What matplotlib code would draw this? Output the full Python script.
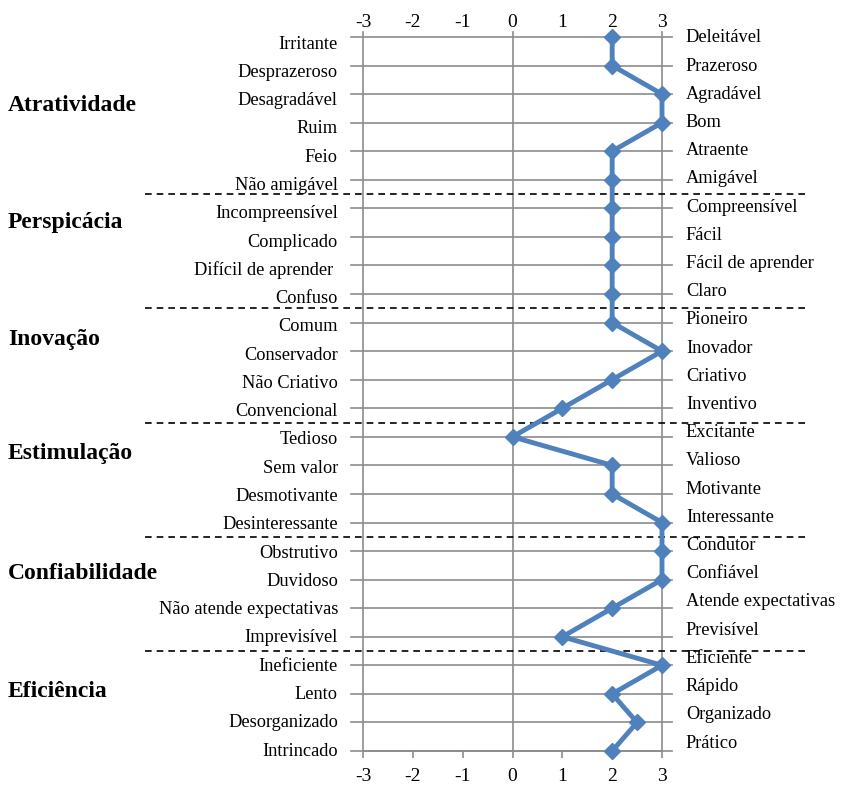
import numpy as np
import matplotlib.pyplot as plt
import matplotlib.transforms as mtransforms

plt.rcParams['axes.unicode_minus'] = False

# semantic differential pairs, top to bottom
neg_labels = ['Irritante', 'Desprazeroso', 'Desagradável', 'Ruim', 'Feio', 'Não amigável',
              'Incompreensível', 'Complicado', 'Difícil de aprender ', 'Confuso',
              'Comum', 'Conservador', 'Não Criativo', 'Convencional',
              'Tedioso', 'Sem valor', 'Desmotivante', 'Desinteressante',
              'Obstrutivo', 'Duvidoso', 'Não atende expectativas', 'Imprevisível',
              'Ineficiente', 'Lento', 'Desorganizado', 'Intrincado']
pos_labels = ['Deleitável', 'Prazeroso', 'Agradável', 'Bom', 'Atraente', 'Amigável',
              'Compreensível', 'Fácil', 'Fácil de aprender', 'Claro',
              'Pioneiro', 'Inovador', 'Criativo', 'Inventivo',
              'Excitante', 'Valioso', 'Motivante', 'Interessante',
              'Condutor', 'Confiável', 'Atende expectativas', 'Previsível',
              'Eficiente', 'Rápido', 'Organizado', 'Prático']
scores = [2, 2, 3, 3, 2, 2,
          2, 2, 2, 2,
          2, 3, 2, 1,
          0, 2, 2, 3,
          3, 3, 2, 1,
          3, 2, 2.5, 2]

groups = ['Atratividade', 'Perspicácia', 'Inovação', 'Estimulação', 'Confiabilidade', 'Eficiência']
group_y = [2.4, 6.5, 10.6, 14.6, 18.8, 22.9]
group_breaks = [5.5, 9.5, 13.5, 17.5, 21.5]

serif = ['Liberation Serif', 'DejaVu Serif']
grey = '#8c8c8c'
blue = '#4f81bd'

fig = plt.figure(figsize=(8.42, 7.87), dpi=100)
ax = fig.add_axes([363 / 842, 1 - 751 / 787, 299 / 842, 714 / 787])

rows = np.arange(len(scores))
n = len(scores)
ax.plot(scores, rows, color=blue, lw=3.5, marker='D', ms=8, zorder=5, clip_on=False)

ax.set_xlim(-3, 3)
ax.set_ylim(n - 1, 0)

# horizontal row lines and the three vertical reference lines
for r in rows:
    ax.plot([-3.25, 3.2], [r, r], color=grey, lw=1.2, zorder=1, clip_on=False)
for x in [-3, 0, 3]:
    ax.plot([x, x], [-0.18, n - 1], color=grey, lw=1.2, zorder=1, clip_on=False)
for s in ax.spines.values():
    s.set_visible(False)

ax.set_yticks([])
ax.set_xticks(range(-3, 4))
ax.tick_params(axis='x', direction='out', length=5, color=grey, width=1.2,
               bottom=True, labelbottom=True, labelsize=14, pad=7)
for t in ax.get_xticklabels():
    t.set_fontfamily(serif)
ax.plot([-3, 3], [n - 1] * 2, color=grey, lw=1.2, zorder=1, clip_on=False)

# scale repeated above the chart
top = ax.secondary_xaxis('top')
top.set_xticks(range(-3, 4))
top.spines['top'].set_visible(False)
top.tick_params(length=0, labelsize=14, pad=4)
for t in top.get_xticklabels():
    t.set_fontfamily(serif)

for i in range(n):
    ax.text(-0.084, i + 0.25 * (1 - i / (n - 1)), neg_labels[i], transform=ax.get_yaxis_transform(),
            ha='right', va='center', fontsize=13.2, family=serif)
    ax.text(1.08, i + 0.03 - 0.31 * i / (n - 1), pos_labels[i], transform=ax.get_yaxis_transform(),
            ha='left', va='center', fontsize=13.2, family=serif)

trans = mtransforms.blended_transform_factory(fig.transFigure, ax.transData)
for g, y in zip(groups, group_y):
    ax.text(8 / 842, y, g, transform=trans, ha='left', va='center',
            fontsize=17, fontweight='bold', family=serif)
for y in group_breaks:
    ax.plot([145 / 842, 810 / 842], [y, y], transform=trans, color='black', lw=1.2,
            ls=(0, (4, 3)), clip_on=False, zorder=2)

fig.savefig('out.png', dpi=100)
